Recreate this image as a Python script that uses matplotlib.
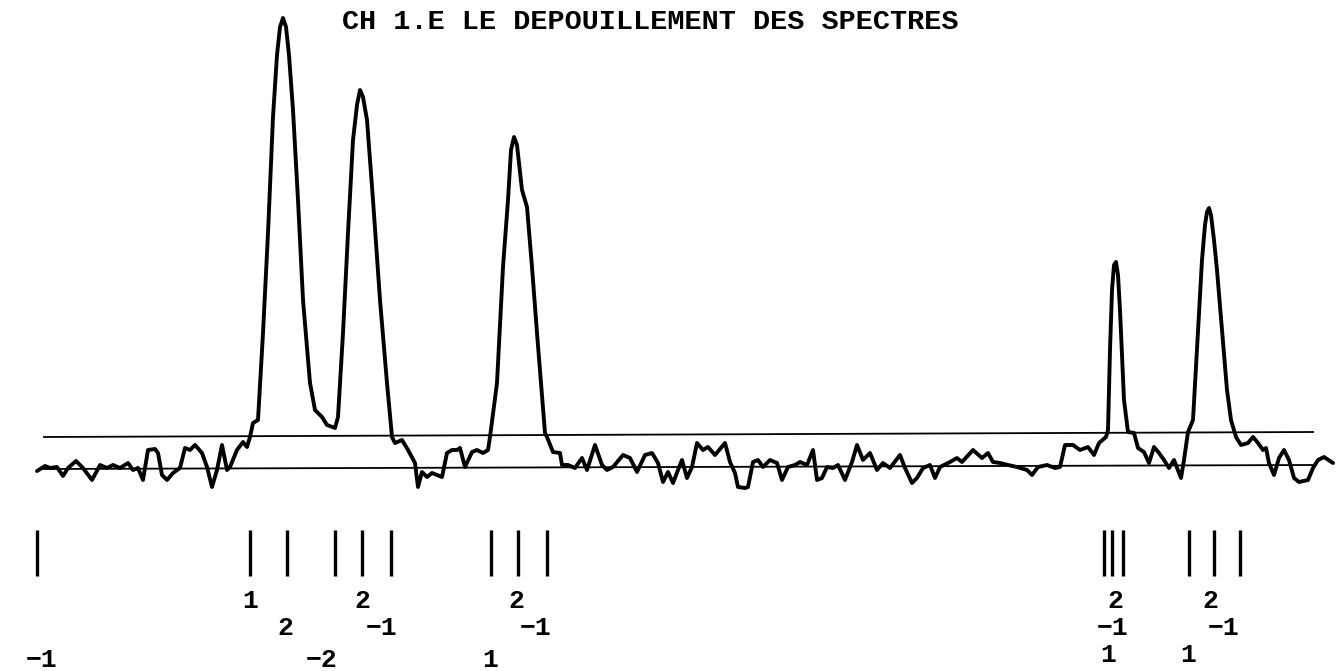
import matplotlib
matplotlib.use("Agg")
import matplotlib.pyplot as plt

# ---- data (chart units: x = channel position, y = plotter depth, downwards) ----
title = "CH 1.E LE DEPOUILLEMENT DES SPECTRES"

trace_x = [37, 45, 50, 57, 63, 68, 76, 83, 92, 100, 107, 113, 120, 128, 133, 138, 143, 148, 155, 158,
           162, 167, 173, 180, 185, 190, 195, 202, 207, 212, 217, 222, 227, 230, 237, 243, 247, 250, 253, 258,
           263, 268, 273, 277, 280, 283, 286, 289, 293, 298, 303, 310, 315, 322, 327, 335, 338, 343, 348, 353,
           357, 360, 363, 367,
           373, 380, 387, 392, 395, 402, 408, 415, 418, 422, 427, 432, 437, 442, 447, 452, 457, 460, 465, 472,
           477, 483, 488, 490, 497, 503, 508, 511, 514, 517, 522, 527, 532, 537, 545, 547, 553, 560, 562, 568, 575,
           582, 587, 595, 602, 607, 613, 623, 630, 637, 645, 652, 658, 663, 668, 673, 678, 682, 687, 692, 697,
           703, 708, 715, 725, 730, 735, 738, 745, 748, 753, 758, 763, 770, 777, 782, 788, 795, 800, 807, 813,
           817, 822, 827, 833, 838, 845, 852, 857, 863, 870, 877, 883, 890, 900, 905, 912, 917, 923, 930, 935,
           940, 950, 957, 962, 973, 982, 988, 993, 1000, 1008, 1017, 1027, 1032, 1038, 1047, 1055, 1060, 1065, 1073, 1080,
           1088, 1094, 1099, 1106, 1108, 1110, 1112, 1114, 1116, 1118, 1120, 1124, 1128, 1134, 1138, 1144, 1149, 1154, 1159, 1164, 1169,
           1174, 1181, 1184, 1188, 1193, 1198, 1202, 1205, 1207, 1209, 1211, 1214, 1217, 1222, 1227, 1231, 1236, 1241, 1248, 1253, 1258, 1263,
           1266, 1269, 1274, 1279, 1284, 1289, 1294, 1299, 1308, 1313, 1318, 1324, 1333]
trace_y = [471, 466, 468, 467, 476, 468, 461, 468, 480, 465, 468, 465, 468, 463, 470, 468, 480, 450, 449, 453,
           475, 480, 473, 468, 448, 450, 445, 453, 467, 487, 470, 445, 470, 467, 450, 442, 447, 437, 423, 420,
           333, 233, 117, 55, 27, 18, 27, 55, 110, 200, 300, 383, 410, 417, 425, 428, 417, 333, 233, 140,
           105, 90, 97, 120,
           200, 300, 383, 437, 443, 440, 450, 463, 487, 472, 477, 473, 475, 477, 453, 450, 450, 448, 467, 452,
           450, 453, 450, 437, 383, 267, 200, 150, 137, 145, 190, 207, 267, 333, 433, 437, 452, 453, 465, 465, 468,
           458, 470, 445, 465, 470, 467, 455, 458, 472, 455, 453, 463, 482, 472, 483, 470, 460, 478, 467, 443,
           450, 447, 455, 443, 462, 473, 487, 488, 487, 462, 460, 467, 460, 463, 480, 467, 465, 462, 465, 450,
           480, 478, 467, 468, 465, 480, 462, 445, 460, 453, 470, 463, 468, 455, 468, 483, 478, 468, 465, 478,
           467, 462, 458, 462, 450, 458, 453, 462, 463, 465, 467, 470, 475, 467, 465, 468, 467, 445, 445, 450,
           447, 455, 443, 437, 430, 350, 290, 265, 262, 275, 310, 400, 432, 433, 448, 452, 463, 447, 453, 460, 468,
           460, 478, 460, 432, 420, 330, 260, 225, 212, 208, 215, 240, 270, 330, 390, 420, 437, 445, 443, 437, 443, 450,
           448, 463, 475, 458, 450, 460, 478, 482, 480, 468, 460, 457, 463]

# threshold lines (start x, end x, start y, end y)
upper_line = (44, 1313, 437, 432)
lower_line = (44, 1315, 469, 465)

# peak markers
marker_x = [37, 250, 287, 335, 362, 391, 491, 518, 547, 1104, 1112, 1123, 1189, 1214, 1240]
marker_top, marker_bottom = 530, 576

# label rows
label_text = ["-1", "1", "2", "-2", "2", "-1", "2", "-1", "1",
              "2", "-1", "1", "2", "-1", "1"]
label_x = [42, 250, 285, 322, 362, 382, 516, 536, 490,
           1115, 1113, 1108, 1210, 1224, 1188]
label_y = [660, 601, 628, 660, 601, 628, 601, 628, 660,
           601, 628, 655, 601, 628, 655]

# ---- drawing ----
fig = plt.figure(figsize=(13.36, 6.71), dpi=100)
ax = fig.add_axes([0, 0, 1, 1])
ax.set_xlim(0, 1336)
ax.set_ylim(671, 0)
ax.axis("off")

ax.plot([upper_line[0], upper_line[1]], [upper_line[2], upper_line[3]], color="black", lw=1.3)
ax.plot([lower_line[0], lower_line[1]], [lower_line[2], lower_line[3]], color="black", lw=1.3)
ax.plot(trace_x, trace_y, color="black", lw=2.8, solid_joinstyle="round", solid_capstyle="round")

ax.vlines(marker_x, marker_top, marker_bottom, color="black", lw=2.4)

mono = ["Liberation Mono", "DejaVu Sans Mono"]
for t, x, y in zip(label_text, label_x, label_y):
    t2 = t.replace("-", "\u2212")
    ax.text(x, y, t2, ha="center", va="center", fontsize=19, fontweight="bold",
            family=mono, color="black")

ax.text(650, 22, title, ha="center", va="center", fontsize=20.5, fontweight="bold",
        family=mono, color="black")

fig.savefig("out.png", dpi=100, facecolor="white")
